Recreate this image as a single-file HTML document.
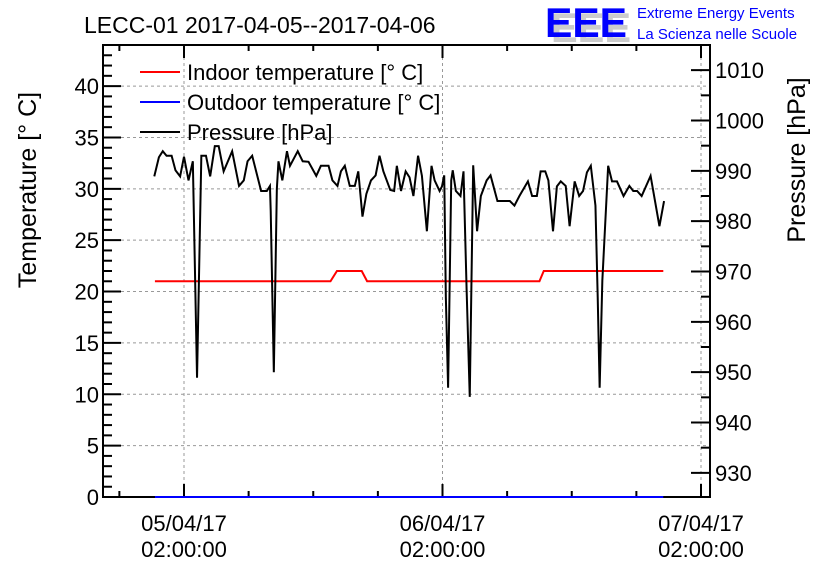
<!DOCTYPE html>
<html><head><meta charset="utf-8"><style>
body{margin:0;background:#fff}
svg{display:block;font-family:"Liberation Sans",sans-serif}
</style></head><body>
<svg id="c" width="836" height="572" xmlns="http://www.w3.org/2000/svg"></svg>
<script>
const pressTime=[-2.76,-2.33,-1.97,-1.62,-1.15,-0.79,-0.36,0.00,0.42,0.82,1.21,1.61,2.04,2.43,2.86,3.22,3.68,4.47,5.11,5.55,5.90,6.33,7.16,7.69,7.98,8.05,8.34,8.62,8.77,9.13,9.56,9.84,10.56,11.02,11.56,12.28,12.71,13.42,13.78,14.25,14.57,14.93,15.39,15.86,16.18,16.57,16.93,17.36,17.79,18.15,18.51,19.15,19.51,19.76,20.15,20.58,20.94,21.30,21.73,22.09,22.55,22.98,23.27,23.73,23.95,24.16,24.31,24.52,24.81,24.95,25.24,25.67,25.95,26.24,26.53,26.85,27.21,27.56,28.10,28.46,29.10,30.25,30.68,31.14,31.93,32.32,32.76,33.11,33.54,33.83,34.26,34.62,34.98,35.44,35.80,36.27,36.69,37.05,37.41,37.77,38.20,38.41,38.59,38.84,39.38,39.74,40.20,40.81,41.35,41.71,42.07,42.49,43.32,44.14,44.57];
const pressure=[988.9,992.7,993.9,993.0,993.0,990.1,988.9,992.8,988.1,991.9,948.9,993.0,993.0,988.9,994.9,994.9,989.9,993.9,987.0,988.1,991.9,993.0,986.0,986.0,987.0,982.1,950.0,986.4,991.9,988.1,993.9,991.0,993.9,991.9,991.8,989.0,991.0,991.0,988.1,987.0,989.9,991.0,987.0,987.0,989.9,980.9,985.4,988.1,989.1,993.0,989.9,986.2,986.0,991.0,986.0,989.9,988.7,985.0,993.0,989.0,978.0,991.0,988.1,986.0,986.9,989.1,964.9,946.9,988.1,990.1,986.0,985.0,989.9,966.3,945.1,991.1,978.0,985.0,988.1,989.1,984.0,984.0,983.1,985.0,987.9,985.0,985.0,989.9,989.9,988.1,978.0,986.9,987.9,987.0,979.0,987.9,985.0,986.0,989.7,991.0,983.1,964.9,946.9,968.2,991.0,987.9,987.9,985.0,987.0,986.0,986.0,985.0,989.0,979.0,984.0];
const inTime=[-2.7,13.6,14.2,16.5,17.0,33.0,33.4,44.5];
const inTemp=[21,21,22,22,21,21,22,22];
const outTime=[-2.7,44.5];
const outTemp=[0,0];
const xLabels=["05/04/17","06/04/17","07/04/17"];
const xLabelHours=[0,24,48];
const yLeftTicks=[0,5,10,15,20,25,30,35,40];
const yRightTicks=[930,940,950,960,970,980,990,1000,1010];

const L=103,R=710,T=45,B=497;
const x=h=>184+h*(517/48);
const yT=t=>B-t*(B-T)/44;
const yP=p=>B-(p-925.2)*(B-T)/89.8;
const svg=document.getElementById('c');
const NS='http://www.w3.org/2000/svg';
function mk(tag,attrs,parent){const e=document.createElementNS(NS,tag);for(const k in attrs)e.setAttribute(k,attrs[k]);(parent||svg).appendChild(e);return e;}
function txt(s,attrs){const e=mk('text',attrs);e.textContent=s;return e;}

// grid
const grid=mk('g',{stroke:'#999','stroke-dasharray':'3,3','stroke-width':1});


yLeftTicks.forEach(t=>{if(t>0)mk('line',{x1:L,x2:R,y1:yT(t),y2:yT(t)},grid);});
xLabelHours.forEach(h=>mk('line',{x1:x(h),x2:x(h),y1:T,y2:B},grid));

// frame
const fr=mk('rect',{x:L,y:T,width:R-L,height:B-T,fill:'none',stroke:'#000','stroke-width':2});


const ax=mk('g',{stroke:'#000','stroke-width':2});


for(let h=-6;h<=48;h+=6){const big=h%24===0;const len=big?13:6;
 mk('line',{x1:x(h),x2:x(h),y1:B,y2:B-len},ax);mk('line',{x1:x(h),x2:x(h),y1:T,y2:T+len},ax);}
for(let t=0;t<=44;t++){const big=t%5===0;mk('line',{x1:L,x2:L+(big?18:9),y1:yT(t),y2:yT(t)},ax);}
for(let p=930;p<=1015;p+=5){const big=p%10===0;mk('line',{x1:R,x2:R-(big?19:9),y1:yP(p),y2:yP(p)},ax);}

// series
function poly(ts,vs,fy,color,name){const p=mk('polyline',{points:ts.map((t,i)=>x(t)+','+fy(vs[i])).join(' '),fill:'none',stroke:color,'stroke-width':2});

}
poly(inTime,inTemp,yT,'#f00','indoor-temperature-line');
poly(pressTime,pressure,yP,'#000','pressure-line');
poly(outTime,outTemp,yT,'#00f','outdoor-temperature-line');

yLeftTicks.forEach(t=>{const e=txt(String(t),{x:L-4,y:yT(t)+8,'text-anchor':'end','font-size':22});
});
yRightTicks.forEach(p=>{const e=txt(String(p),{x:R+5,y:yP(p)+8,'font-size':22});
});
xLabels.forEach((s,i)=>{const e=txt(s,{x:x(xLabelHours[i]),y:531,'text-anchor':'middle','font-size':22});

const f=txt('02:00:00',{x:x(xLabelHours[i]),y:557,'text-anchor':'middle','font-size':22});
});
</script>
<script>
(function(){
const svg=document.getElementById('c');const NS='http://www.w3.org/2000/svg';
function t(s,a,name){const e=document.createElementNS(NS,'text');for(const k in a)e.setAttribute(k,a[k]);e.textContent=s;


svg.appendChild(e);return e;}
function l(a,name){const e=document.createElementNS(NS,'line');for(const k in a)e.setAttribute(k,a[k]);


svg.appendChild(e);}
t('LECC-01 2017-04-05--2017-04-06',{x:84,y:33,'font-size':23},'chart-title');
t('Temperature [° C]',{x:0,y:0,'font-size':25,'text-anchor':'middle',transform:'translate(36,190) rotate(-90)'},'y-left-title');
t('Pressure [hPa]',{x:0,y:0,'font-size':25,'text-anchor':'middle',transform:'translate(805,160) rotate(-90)'},'y-right-title');
l({x1:140,x2:180,y1:72,y2:72,stroke:'#f00','stroke-width':2},'legend-indoor-swatch');
t('Indoor temperature [° C]',{x:187,y:80,'font-size':22},'legend-indoor');
l({x1:140,x2:180,y1:102,y2:102,stroke:'#00f','stroke-width':2},'legend-outdoor-swatch');
t('Outdoor temperature [° C]',{x:187,y:110,'font-size':22},'legend-outdoor');
l({x1:140,x2:180,y1:132,y2:132,stroke:'#000','stroke-width':2},'legend-pressure-swatch');
t('Pressure [hPa]',{x:187,y:140,'font-size':22},'legend-pressure');
t('EEE',{x:551,y:42,'font-size':42,fill:'#ccc','font-weight':'bold',textLength:80,lengthAdjust:'spacingAndGlyphs'},'logo-shadow');
t('EEE',{x:545,y:37,'font-size':42,fill:'#00f','font-weight':'bold',textLength:82,lengthAdjust:'spacingAndGlyphs'},'logo-eee');
t('Extreme Energy Events',{x:637,y:18,'font-size':15,fill:'#00f'},'logo-line1');
t('La Scienza nelle Scuole',{x:637,y:39,'font-size':15,fill:'#00f'},'logo-line2');
})();
</script>
</body></html>
